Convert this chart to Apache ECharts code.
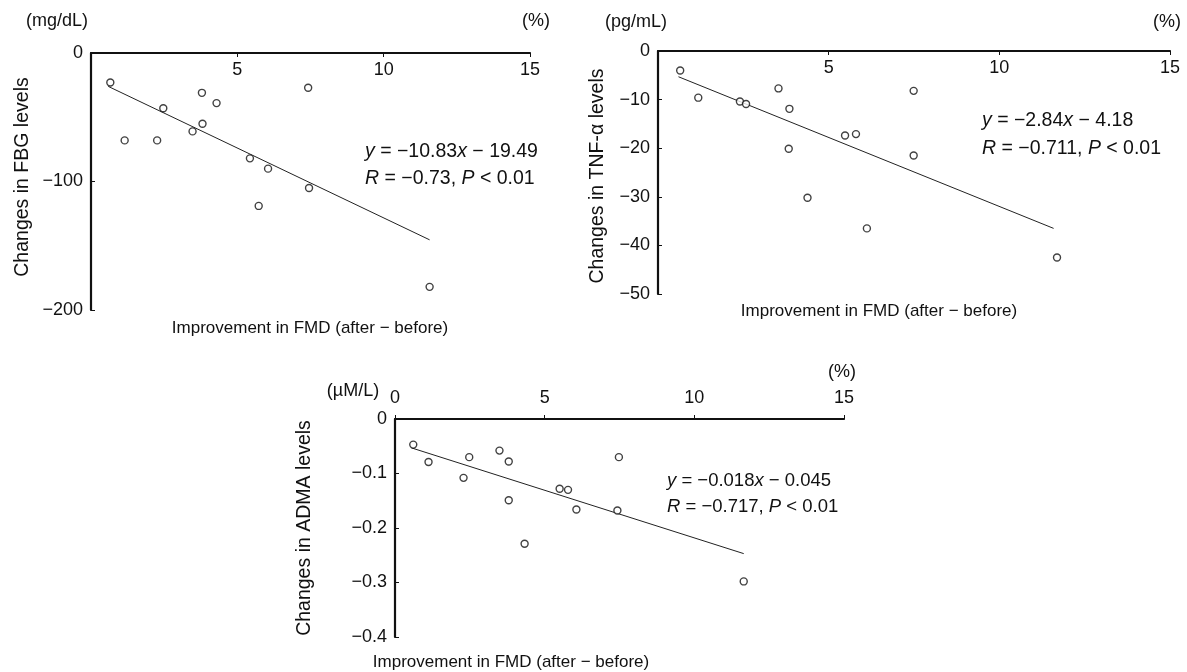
<html>
<head>
    <meta http-equiv='Content-Type' content='text/html; charset=utf-8'/>
    <title>FMD correlations</title>
    <style>
        body { margin: 0; padding: 0; background: #fff; }
        #main { width: 1187px; height: 672px; }
    </style>
    <script src="https://cdn.jsdelivr.net/npm/echarts@6/dist/echarts.min.js"></script>
</head>
<body>
<div id="main"></div>
<script type="text/javascript">
    // improvement in FMD (%) vs change in FBG (mg/dL)
    let fbgX = [0.66, 1.15, 2.26, 2.47, 3.47, 3.81, 3.79, 4.29, 5.43, 6.05, 5.73, 7.42, 7.45, 11.57];
    let fbgY = [-23, -68, -68, -43, -61, -55, -31, -39, -82, -90, -119, -27, -105, -182];
    let fbgFitX = [0.59, 11.57];
    let fbgFitY = [-26, -145.4];

    // improvement in FMD (%) vs change in TNF-alpha (pg/mL)
    let tnfX = [0.65, 1.18, 2.40, 2.58, 3.53, 3.85, 3.83, 4.38, 5.48, 5.80, 6.12, 7.49, 7.49, 11.69];
    let tnfY = [-4, -9.6, -10.4, -10.9, -7.7, -11.9, -20.1, -30.2, -17.4, -17.1, -36.5, -8.2, -21.5, -42.5];
    let tnfFitX = [0.6, 11.59];
    let tnfFitY = [-5.3, -36.5];

    // improvement in FMD (%) vs change in ADMA (uM/L)
    let admaX = [0.61, 1.12, 2.29, 2.48, 3.49, 3.8, 3.8, 4.33, 5.5, 5.78, 6.06, 7.43, 7.48, 11.65];
    let admaY = [-0.047, -0.079, -0.108, -0.070, -0.058, -0.078, -0.149, -0.229, -0.128, -0.130, -0.166, -0.168, -0.070, -0.298];
    let admaFitX = [0.55, 11.65];
    let admaFitY = [-0.053, -0.247];

    let xTicks = [0, 5, 10, 15];

    const FONT = '"Liberation Sans", Arial, Helvetica, sans-serif';
    const INK = '#111';

    function pairs(xs, ys) {
        return xs.map((x, i) => [x, ys[i]]);
    }

    function minus(v) {
        return String(v).replace('-', '\u2212');
    }

    function xAxisFor(i, inside) {
        return {
            gridIndex: i,
            type: 'value',
            position: 'top',
            min: xTicks[0],
            max: xTicks[xTicks.length - 1],
            interval: xTicks[1] - xTicks[0],
            axisLine: { onZero: false, lineStyle: { color: INK, width: 2.2 } },
            axisTick: { inside: inside, length: 4, lineStyle: { color: INK } },
            axisLabel: {
                inside: inside,
                showMinLabel: !inside,
                margin: inside ? 8 : 12,
                color: INK, fontSize: 18, fontFamily: FONT
            },
            splitLine: { show: false }
        };
    }

    function yAxisFor(i, min, interval) {
        return {
            gridIndex: i,
            type: 'value',
            min: min,
            max: 0,
            interval: interval,
            axisLine: { show: true, onZero: false, lineStyle: { color: INK, width: 2.2 } },
            axisTick: { show: true, inside: true, length: 4, lineStyle: { color: INK } },
            axisLabel: {
                margin: 8, color: INK, fontSize: 18, fontFamily: FONT,
                formatter: v => minus(Math.round(v * 10) / 10)
            },
            splitLine: { show: false }
        };
    }

    function scatterFor(i, xs, ys) {
        return {
            type: 'scatter',
            xAxisIndex: i, yAxisIndex: i,
            data: pairs(xs, ys),
            symbol: 'circle',
            symbolSize: 7,
            itemStyle: { color: '#fff', borderColor: INK, borderWidth: 1.4 },
            z: 3
        };
    }

    function fitFor(i, xs, ys) {
        return {
            type: 'line',
            xAxisIndex: i, yAxisIndex: i,
            data: pairs(xs, ys),
            showSymbol: false,
            lineStyle: { color: '#222', width: 1 },
            z: 2
        };
    }

    function label(text, x, y, opts) {
        let size = (opts && opts.size) || 17;
        return {
            type: 'text',
            x: x, y: y,
            rotation: (opts && opts.rotation) || 0,
            style: {
                text: text,
                fill: INK,
                font: size + 'px ' + FONT,
                align: (opts && opts.align) || 'center',
                verticalAlign: 'middle',
                rich: {
                    i: { fontStyle: 'italic', fontSize: size, fontFamily: FONT, fill: INK }
                }
            }
        };
    }

    let xName = 'Improvement in FMD (after \u2212 before)';
    let eq = { align: 'left', size: 19.5 };
    let eqSmall = { align: 'left', size: 18.5 };
    let yName = { rotation: Math.PI / 2, size: 19.5 };
    let unit = { size: 18 };

    let option = {
        backgroundColor: '#fff',
        animation: false,
        grid: [
            { left: 91, top: 53, width: 439, height: 257 },
            { left: 658, top: 51, width: 512, height: 243 },
            { left: 395, top: 419, width: 449, height: 218 }
        ],
        xAxis: [xAxisFor(0, true), xAxisFor(1, true), xAxisFor(2, false)],
        yAxis: [yAxisFor(0, -200, 100), yAxisFor(1, -50, 10), yAxisFor(2, -0.4, 0.1)],
        series: [
            scatterFor(0, fbgX, fbgY), fitFor(0, fbgFitX, fbgFitY),
            scatterFor(1, tnfX, tnfY), fitFor(1, tnfFitX, tnfFitY),
            scatterFor(2, admaX, admaY), fitFor(2, admaFitX, admaFitY)
        ],
        graphic: [
            // units
            label('(mg/dL)', 57, 21, unit),
            label('(%)', 536, 21, unit),
            label('(pg/mL)', 636, 22, unit),
            label('(%)', 1167, 22, unit),
            label('(\u00b5M/L)', 353, 391, unit),
            label('(%)', 842, 372, unit),
            // axis names
            label('Changes in FBG levels', 23, 177, yName),
            label('Changes in TNF-\u03b1 levels', 598, 176, yName),
            label('Changes in ADMA levels', 305, 528, yName),
            label(xName, 310, 328),
            label(xName, 879, 311),
            label(xName, 511, 662),
            // regression equations
            label('{i|y} = \u221210.83{i|x} \u2212 19.49', 365, 152, eq),
            label('{i|R} = \u22120.73, {i|P} < 0.01', 365, 179, eq),
            label('{i|y} = \u22122.84{i|x} \u2212 4.18', 982, 121, eq),
            label('{i|R} = \u22120.711, {i|P} < 0.01', 982, 149, eq),
            label('{i|y} = \u22120.018{i|x} \u2212 0.045', 667, 481, eqSmall),
            label('{i|R} = \u22120.717, {i|P} < 0.01', 667, 507, eqSmall)
        ]
    };

    let myChart = echarts.init(document.getElementById('main'));
    myChart.setOption(option);
</script>
</body>
</html>
